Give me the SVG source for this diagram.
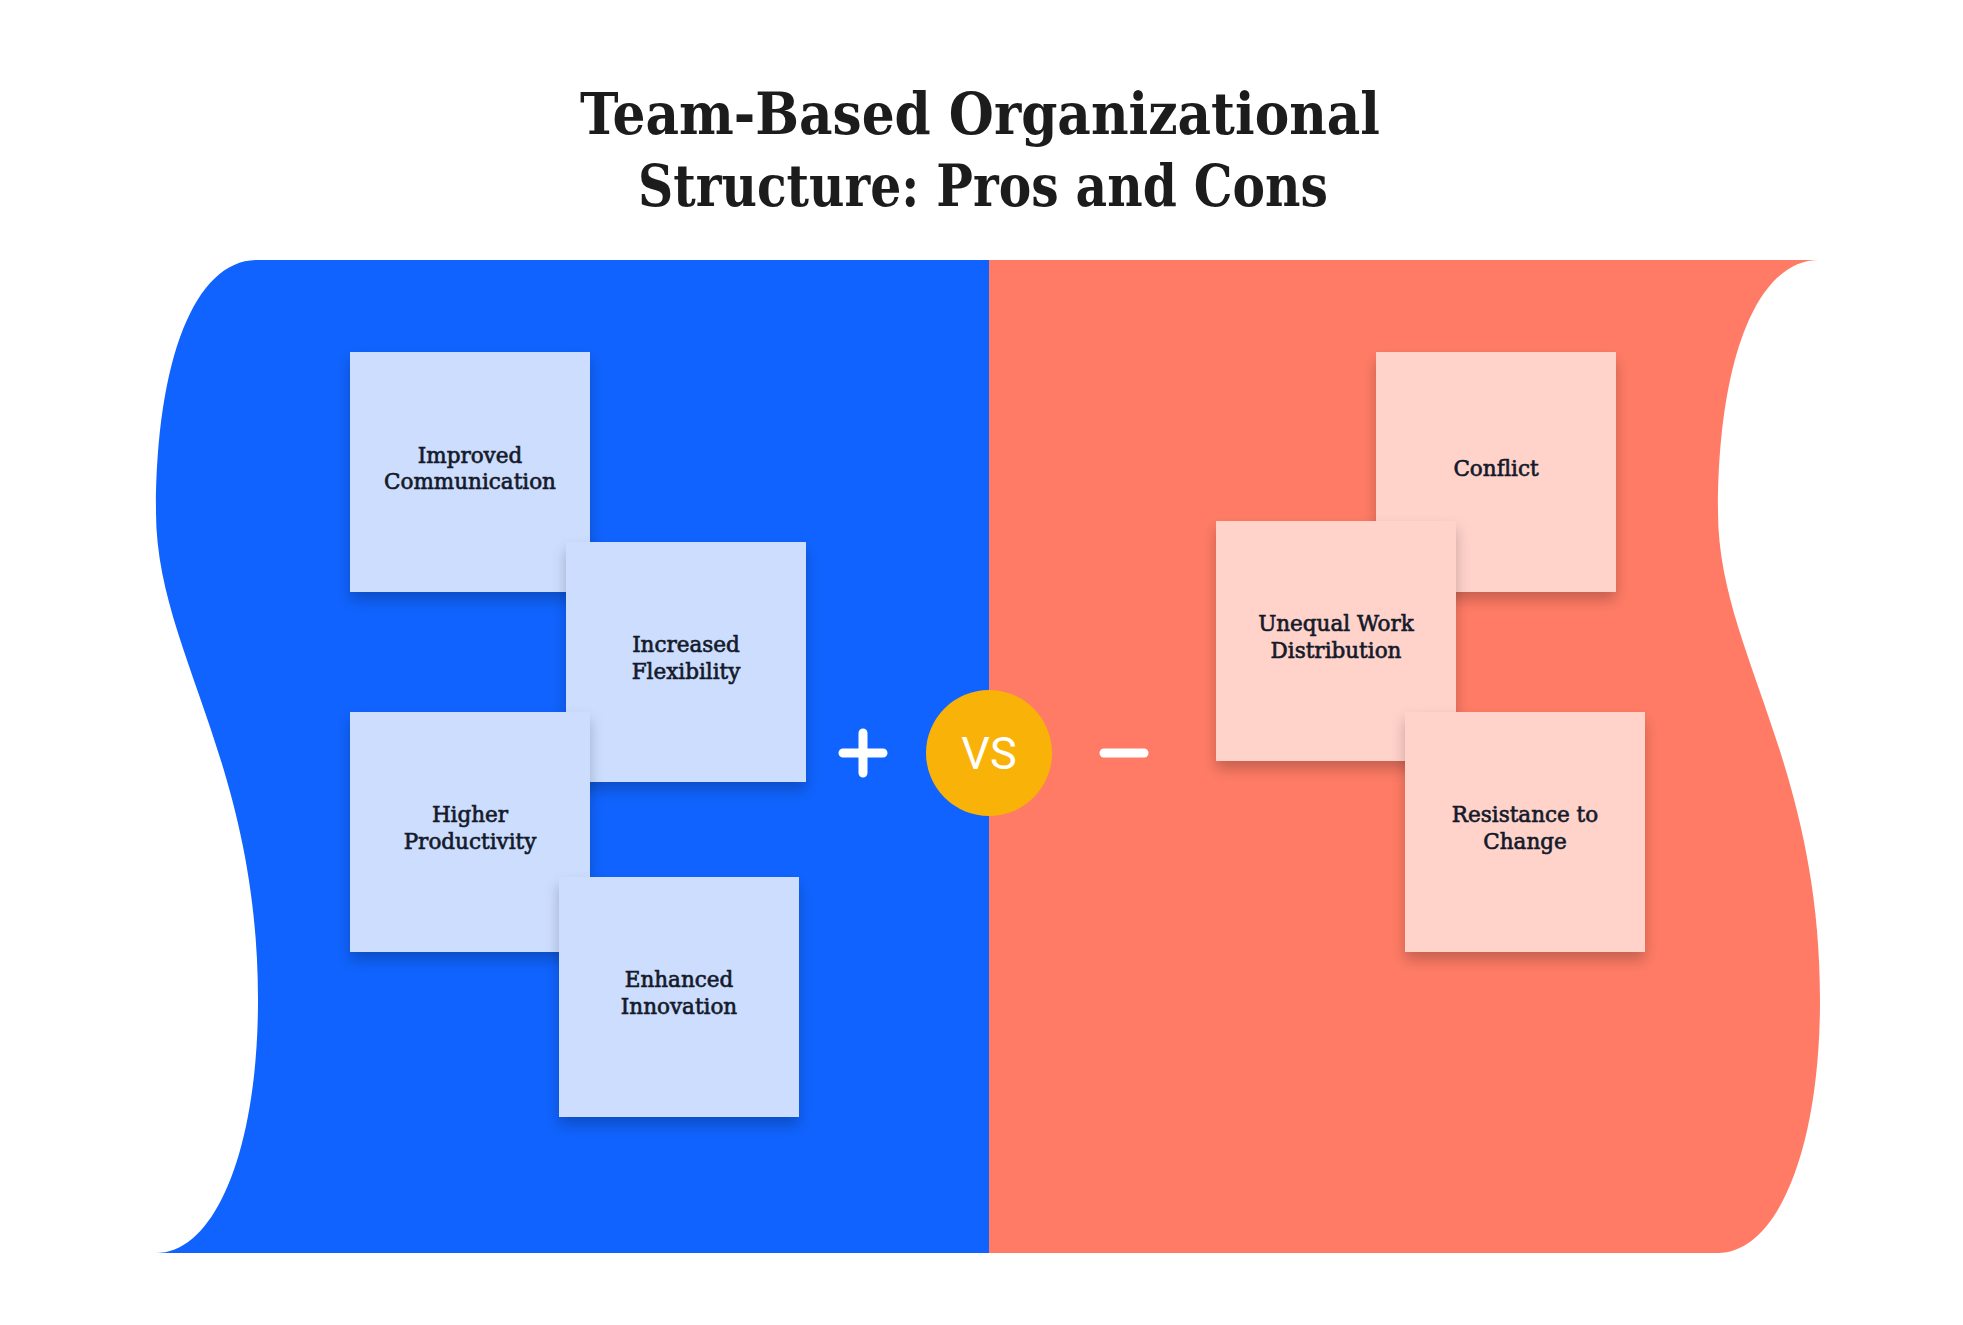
<svg xmlns="http://www.w3.org/2000/svg" width="1963" height="1325" viewBox="0 0 1963 1325">
  <defs>
    <filter id="shadow" x="-20%" y="-20%" width="140%" height="150%">
      <feDropShadow dx="0" dy="8" stdDeviation="7" flood-color="#000000" flood-opacity="0.22"/>
    </filter>
  </defs>
  <style>
    .title { font-family: "DejaVu Serif", "Liberation Serif", serif; font-weight: bold; font-size: 58px; fill: #1c1c1c; }
    .label { font-family: "DejaVu Serif", "Liberation Serif", serif; font-size: 21.5px; fill: #141a2a; stroke: #141a2a; stroke-width: 0.65; text-anchor: middle; }
    .pro { fill: #CCDDFE; filter: url(#shadow); }
    .con { fill: #FFD2CA; filter: url(#shadow); }
    .sign { stroke: #ffffff; stroke-width: 9; stroke-linecap: round; fill: none; }
  </style>
  <rect width="1963" height="1325" fill="#ffffff"/>

  <g id="title">
    <text class="title" x="580" y="134" textLength="800" lengthAdjust="spacingAndGlyphs">Team-Based Organizational</text>
    <text class="title" x="638" y="206" textLength="690" lengthAdjust="spacingAndGlyphs">Structure: Pros and Cons</text>
  </g>

  <g id="background">
    <path id="pros-panel" fill="#1063FE" d="M989,260 L257,260 C195,260 156,360 156,512 C156,650 258,760 258,1000 C258,1150 215,1253 156,1253 L989,1253 Z"/>
    <path id="cons-panel" fill="#FF7B65" d="M989,260 L1819,260 C1757,260 1718,360 1718,512 C1718,650 1820,760 1820,1000 C1820,1150 1777,1253 1718,1253 L989,1253 Z"/>
  </g>

  <g id="node-improved-communication">
    <rect class="pro" x="350" y="352" width="240" height="240"/>
    <text class="label" x="470" y="463">Improved</text>
    <text class="label" x="470" y="489">Communication</text>
  </g>
  <g id="node-increased-flexibility">
    <rect class="pro" x="566" y="542" width="240" height="240"/>
    <text class="label" x="686" y="652">Increased</text>
    <text class="label" x="686" y="679">Flexibility</text>
  </g>
  <g id="node-higher-productivity">
    <rect class="pro" x="350" y="712" width="240" height="240"/>
    <text class="label" x="470" y="822">Higher</text>
    <text class="label" x="470" y="849">Productivity</text>
  </g>
  <g id="node-enhanced-innovation">
    <rect class="pro" x="559" y="877" width="240" height="240"/>
    <text class="label" x="679" y="987">Enhanced</text>
    <text class="label" x="679" y="1014">Innovation</text>
  </g>

  <g id="node-conflict">
    <rect class="con" x="1376" y="352" width="240" height="240"/>
    <text class="label" x="1496" y="476">Conflict</text>
  </g>
  <g id="node-unequal-work-distribution">
    <rect class="con" x="1216" y="521" width="240" height="240"/>
    <text class="label" x="1336" y="631">Unequal Work</text>
    <text class="label" x="1336" y="658">Distribution</text>
  </g>
  <g id="node-resistance-to-change">
    <rect class="con" x="1405" y="712" width="240" height="240"/>
    <text class="label" x="1525" y="822">Resistance to</text>
    <text class="label" x="1525" y="849">Change</text>
  </g>

  <g id="vs-badge">
    <path class="sign" d="M843,753 H883 M863,733 V773"/>
    <circle cx="989" cy="753" r="63" fill="#F9B207"/>
    <text x="989" y="769" text-anchor="middle" font-family="Roboto, 'Liberation Sans', sans-serif" font-size="45" fill="#ffffff">VS</text>
    <path class="sign" d="M1104,753 H1144"/>
  </g>

  <g id="connectors"></g>
</svg>
